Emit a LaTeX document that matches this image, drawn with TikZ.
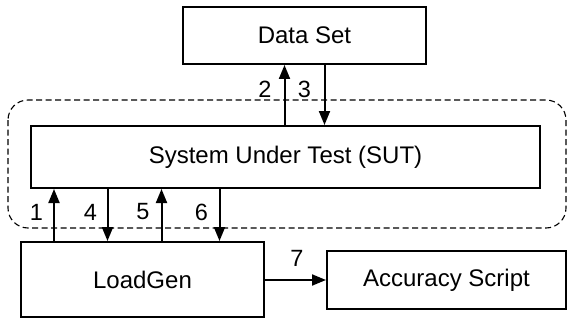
\documentclass[tikz,border=0pt]{standalone}
\usepackage{fontspec}
\setmainfont{Liberation Sans}
\usetikzlibrary{arrows.meta,positioning}

\tikzset{
  block/.style={draw, line width=2pt, inner sep=0pt, font=\fontsize{24}{28}\selectfont},
  num/.style={inner sep=0pt, font=\fontsize{23.5}{27}\selectfont}
}

\begin{document}
\begin{tikzpicture}[x=1pt, y=-1pt, >={Triangle[length=14pt,width=11pt]}]
      \useasboundingbox (0,0) rectangle (568,321);

      \node[block, minimum width=243pt, minimum height=57pt] (data) at (304.5,35.5) {Data Set};
      \node[block, minimum width=509pt, minimum height=62pt] (sut) at (285.5,157) {System Under Test (SUT)};
      \node[block, minimum width=243pt, minimum height=75pt] (lg) at (142.5,279.5) {LoadGen};
      \node[block, minimum width=239pt, minimum height=58pt] (acc) at (446.5,280) {Accuracy Script};

      % dashed frame round the SUT
      \draw[line width=1.1pt, dash pattern=on 6pt off 3.5pt, rounded corners=20pt] (8,100) rectangle (566,228);

      \coordinate (c1) at (54,0);
      \coordinate (c2) at (284.5,0);
      \coordinate (c3) at (324.5,0);
      \coordinate (c4) at (107.5,0);
      \coordinate (c5) at (161.5,0);
      \coordinate (c6) at (219.5,0);

      \draw[->, line width=2pt] (lg.north -| c1) -- (sut.south -| c1);
      \draw[->, line width=2pt] (sut.north -| c2) -- (data.south -| c2);
      \draw[->, line width=2pt] (data.south -| c3) -- (sut.north -| c3);
      \draw[->, line width=2pt] (sut.south -| c4) -- (lg.north -| c4);
      \draw[->, line width=2pt] (lg.north -| c5) -- (sut.south -| c5);
      \draw[->, line width=2pt] (sut.south -| c6) -- (lg.north -| c6);
      \draw[->, line width=2pt] (lg.east |- acc.west) -- (acc.west);

      \node[num] (n1) at (36.5,212) {1};
      \node[num] (n2) at (265,89) {2};
      \node[num] (n3) at (304.5,89) {3};
      \node[num] (n4) at (90.5,212) {4};
      \node[num] (n5) at (143,212) {5};
      \node[num] (n6) at (201.5,212) {6};
      \node[num] (n7) at (297,258) {7};
\end{tikzpicture}
\end{document}
